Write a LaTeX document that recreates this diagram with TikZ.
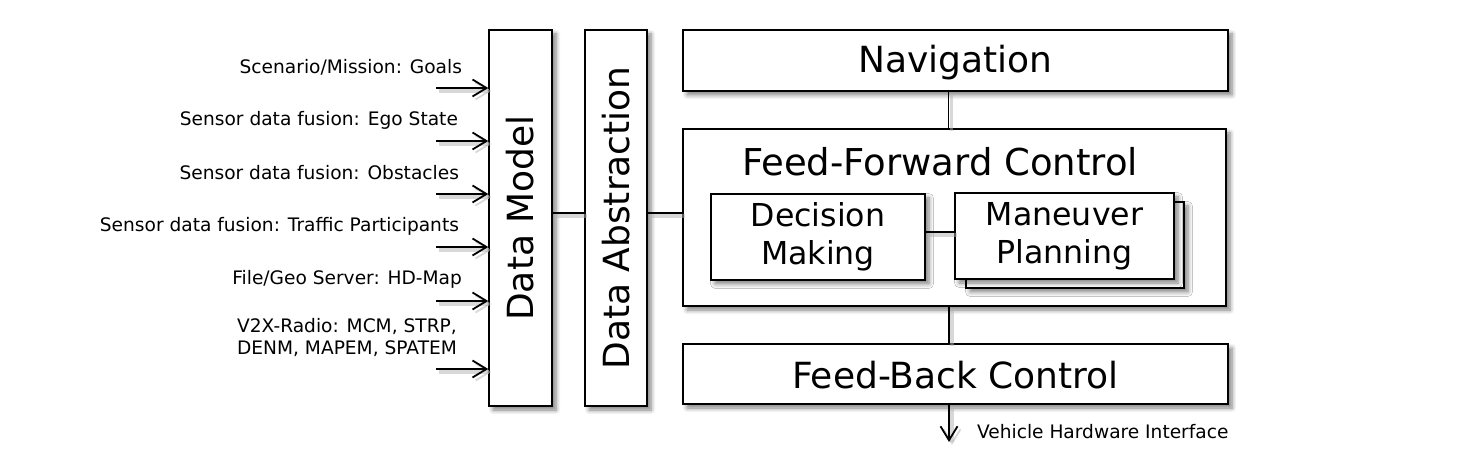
\documentclass[tikz,border=0pt]{standalone}
\usepackage{fontspec}
\setmainfont{DejaVu Sans}
\usetikzlibrary{arrows.meta,shadows.blur,calc}
\begin{document}
\begin{tikzpicture}[x=0.5pt,y=-0.5pt,
  box/.style={draw=black, line width=0.75pt, fill=white, inner sep=0pt,
    blur shadow={shadow xshift=2pt, shadow yshift=-2pt, shadow blur steps=6, shadow opacity=50}},
  bigtxt/.style={font=\fontsize{18}{20}\selectfont},
  midtxt/.style={font=\fontsize{15.8}{19}\selectfont, align=center},
  smalltxt/.style={font=\fontsize{9.3}{11}\selectfont},
  lshadow/.style={preaction={draw=black!30, line width=1.6pt, opacity=0.5,
    transform canvas={shift={(1.5pt,-1.5pt)}}}},
  conn/.style={line width=0.9pt, lshadow},
  inarrow/.style={line width=0.9pt, -{Straight Barb[length=7pt,width=8.5pt,line width=0.9pt]}}
]
\useasboundingbox (0,0) rectangle (1477,458);

% left column boxes
\node[box, minimum width=31.5pt, minimum height=188pt] (dm) at (520.5,218) {};
\node[bigtxt, rotate=90] at (dm.center) {Data Model};
\node[box, minimum width=31pt, minimum height=188pt] (da) at (616,218) {};
\node[bigtxt, rotate=90] at (da.center) {Data Abstraction};

% right boxes
\node[box, minimum width=272.5pt, minimum height=30.5pt] (nav) at (955.5,60.5) {};
\node[bigtxt] at ([yshift=-1pt]nav.center) {Navigation};
\node[box, minimum width=271.5pt, minimum height=88.5pt] (ffc) at (954.5,217.5) {};
\node[bigtxt, font=\fontsize{18.5}{20}\selectfont] (ffct) at (940,162) {Feed-Forward Control};
\node[box, minimum width=272.5pt, minimum height=30pt] (fb) at (955.5,374) {};
\node[bigtxt] at ([yshift=-0.5pt]fb.center) {Feed-Back Control};

\node[box, minimum width=107pt, minimum height=43pt, midtxt] (dec) at (818,237) {Decision\\Making};
\node[box, minimum width=109pt, minimum height=43pt] (man2) at (1075,245) {};
\node[box, minimum width=109.5pt, minimum height=43pt, midtxt] (man) at (1064.5,236) {Maneuver\\Planning};

% connectors
\draw[conn] ([xshift=-3.5pt]nav.south) -- ([xshift=-3.5pt]nav.south |- ffc.north);
\draw[conn] ([xshift=-2.75pt]ffc.south) -- ([xshift=-2.75pt]ffc.south |- fb.north);
\draw[conn] ([yshift=2.5pt]dm.east) -- ([yshift=2.5pt]da.west);
\draw[conn] ([yshift=2.5pt]da.east) -- ([yshift=2.5pt]da.east -| ffc.west);
\draw[conn] ([yshift=2.5pt]dec.east) -- ([yshift=2.5pt]dec.east -| man.west);

\coordinate (vhi) at (949,442);
\draw[inarrow, lshadow] ([xshift=-3.25pt]fb.south) -- (vhi);
\node[smalltxt, anchor=west] (vhil) at (970,432) {Vehicle Hardware Interface};

% inputs
\foreach \y/\name in {88/i1,141/i2,194/i3,247/i4,301/i5,369/i6}{
  \coordinate (\name) at (436,\y);
  \draw[inarrow, lshadow] (\name) -- (\name -| dm.west);
}
\node[smalltxt, anchor=east] (l1) at (469,67) {Scenario/Mission: Goals};
\node[smalltxt, anchor=east] (l2) at (465,120) {Sensor data fusion: Ego State};
\node[smalltxt, anchor=east] (l3) at (466,173) {Sensor data fusion: Obstacles};
\node[smalltxt, anchor=east] (l4) at (466,226) {Sensor data fusion: Traffic Participants};
\node[smalltxt, anchor=east] (l5) at (469,279) {File/Geo Server: HD-Map};
\node[smalltxt, align=center] (l6) at (347,338) {V2X-Radio: MCM, STRP,\\DENM, MAPEM, SPATEM};
\end{tikzpicture}
\end{document}
